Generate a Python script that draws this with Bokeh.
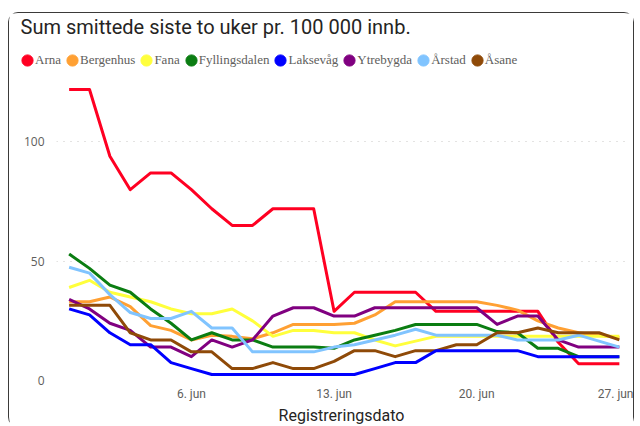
from bokeh.plotting import figure
from bokeh.layouts import column
from bokeh.models import Range1d, FixedTicker, Legend, LegendItem, Label
from bokeh.embed import file_html
from bokeh.resources import INLINE

# Dates: 31. mai .. 27. jun (day index 0..27)
dates = ["31. mai"] + [f"{d}. jun" for d in range(1, 28)]
days = list(range(len(dates)))

tick_days = [6, 13, 20, 27]
tick_labels = ["6. jun", "13. jun", "20. jun", "27. jun"]
y_ticks = [0, 50, 100]

names = ["Arna", "Bergenhus", "Fana", "Fyllingsdalen", "Laksevåg", "Ytrebygda", "Årstad", "Åsane"]
colors = ["#FF0022", "#FFA033", "#FFFF3C", "#0B7D12", "#0000FF", "#800080", "#80C4FF", "#8F4A08"]

arna = [122, 122, 94, 80, 87, 87, 80, 72, 65, 65, 72, 72, 72, 29, 37, 37, 37, 37,
        29, 29, 29, 29, 29, 29, 16, 7, 7, 7]
bergenhus = [33, 33, 35, 31, 23, 21, 17, 19, 18.5, 17.5, 20, 23.5, 23.5, 23.5, 24, 27.5,
             33, 33, 33, 33, 33, 31.5, 29.5, 25, 22, 20, 19, 18]
fana = [39, 42, 37, 35, 33, 30, 28, 28, 30, 25, 18.5, 21, 21, 20, 20, 17, 14.5, 16.5,
        18.5, 18.5, 18.5, 18.5, 18.5, 18.5, 18.5, 18.5, 18.5, 18.5]
fyllingsdalen = [53, 47, 40, 37, 30, 24, 17, 20, 17, 17, 14, 14, 14, 13.5, 17, 19, 21,
                 23.5, 23.5, 23.5, 23.5, 20.5, 20, 13.5, 13.5, 10, 10, 10]
laksevag = [30, 27.5, 20, 15, 15, 7.5, 5, 2.5, 2.5, 2.5, 2.5, 2.5, 2.5, 2.5, 2.5, 5,
            7.5, 7.5, 12.5, 12.5, 12.5, 12.5, 12.5, 10, 10, 10, 10, 10]
ytrebygda = [34, 30, 24, 21, 14, 14, 10, 17, 14, 17, 27, 30.5, 30.5, 27, 27, 30.5, 30.5,
             30.5, 30.5, 30.5, 30.5, 23.5, 27, 27, 17, 14, 14, 14]
arstad = [47.5, 45, 36, 28.5, 26, 26, 29, 22, 22, 12, 12, 12, 12, 14, 15, 17, 19, 21.5,
          19, 19, 19, 19, 17, 17, 17, 19, 16.5, 14]
asane = [31.5, 31.5, 31.5, 20, 17, 17, 12, 12, 5, 5, 7.5, 5, 5, 8, 12.5, 12.5, 10, 12.5,
         12.5, 15, 15, 20, 20, 22, 20, 20, 20, 17]

series = [arna, bergenhus, fana, fyllingsdalen, laksevag, ytrebygda, arstad, asane]

# ---- main chart ----
p = figure(width=624, height=344,
           x_range=Range1d(-0.62, 27.35), y_range=Range1d(0, 124.5),
           output_backend="svg", toolbar_location=None,
           min_border_left=47, min_border_right=7, min_border_top=0, min_border_bottom=44)
p.title = None
p.outline_line_color = None
p.frame_align = False

# draw order: keep blue above green at the end
order = [0, 1, 2, 3, 5, 6, 7, 4]
for i in order:
    p.line(days, series[i], line_color=colors[i], line_width=3, line_join="round")

p.xgrid.grid_line_color = None
p.ygrid.ticker = FixedTicker(ticks=y_ticks)
p.ygrid.grid_line_color = "#C8C6C4"
p.ygrid.grid_line_dash = "1 6"
p.ygrid.grid_line_width = 1

p.yaxis.ticker = FixedTicker(ticks=y_ticks)
p.xaxis.ticker = FixedTicker(ticks=tick_days)
p.xaxis.major_label_overrides = {d: l for d, l in zip(tick_days, tick_labels)}
for ax in (p.xaxis[0], p.yaxis[0]):
    ax.axis_line_color = None
    ax.major_tick_line_color = None
    ax.minor_tick_line_color = None
    ax.major_tick_out = 0
    ax.major_tick_in = 0
    ax.major_label_text_color = "#605E5C"
p.yaxis.major_label_text_font = "Open Sans"
p.yaxis.major_label_text_font_size = "12px"
p.yaxis.major_label_standoff = 12
p.xaxis.major_label_text_font = "Roboto"
p.xaxis.major_label_text_font_size = "12px"
p.xaxis.major_label_standoff = 6
p.xaxis.axis_label = "Registreringsdato"
p.xaxis.axis_label_text_font = "Roboto"
p.xaxis.axis_label_text_font_style = "normal"
p.xaxis.axis_label_text_font_size = "16px"
p.xaxis.axis_label_text_color = "#252423"
p.xaxis.axis_label_standoff = 2

# ---- header: title + legend ----
head = figure(width=624, height=70, x_range=Range1d(0, 1), y_range=Range1d(0, 1),
              output_backend="svg", toolbar_location=None,
              x_axis_location=None, y_axis_location=None,
              min_border=0, min_border_left=0, min_border_right=0,
              min_border_top=0, min_border_bottom=0)
head.title = None
head.outline_line_color = None
head.frame_align = False
head.xgrid.visible = False
head.ygrid.visible = False

title = Label(x=11, y=57, x_units="screen", y_units="screen",
              text="Sum smittede siste to uker pr. 100 000 innb.",
              text_font="Roboto", text_font_size="20px", text_color="#252423",
              text_baseline="middle")
head.add_layout(title)

# legend markers: first point of each district (outside this header's ranges,
# so only the round legend glyph is visible)
items = []
for name, c, s in zip(names, colors, series):
    r = head.ellipse(x=[days[0]], y=[s[0]], width=10, height=10,
                     width_units="screen", height_units="screen",
                     fill_color=c, line_color=c)
    items.append(LegendItem(label=name, renderers=[r]))
legend = Legend(items=items, location=(11, 13), orientation="horizontal",
                glyph_width=14, glyph_height=14, label_standoff=1, spacing=4,
                label_height=20, padding=0, margin=0, border_line_color=None,
                background_fill_alpha=0,
                label_text_font="Liberation Serif", label_text_font_size="13px",
                label_text_color="#605E5C")
head.add_layout(legend)

layout = column(head, p, spacing=0)
layout.styles = {"border": "1px solid #3b3a39", "border-bottom": "none",
                 "border-radius": "10px", "margin-top": "12px", "margin-left": "8px"}

open("out.html", "w").write(file_html(layout, INLINE))
